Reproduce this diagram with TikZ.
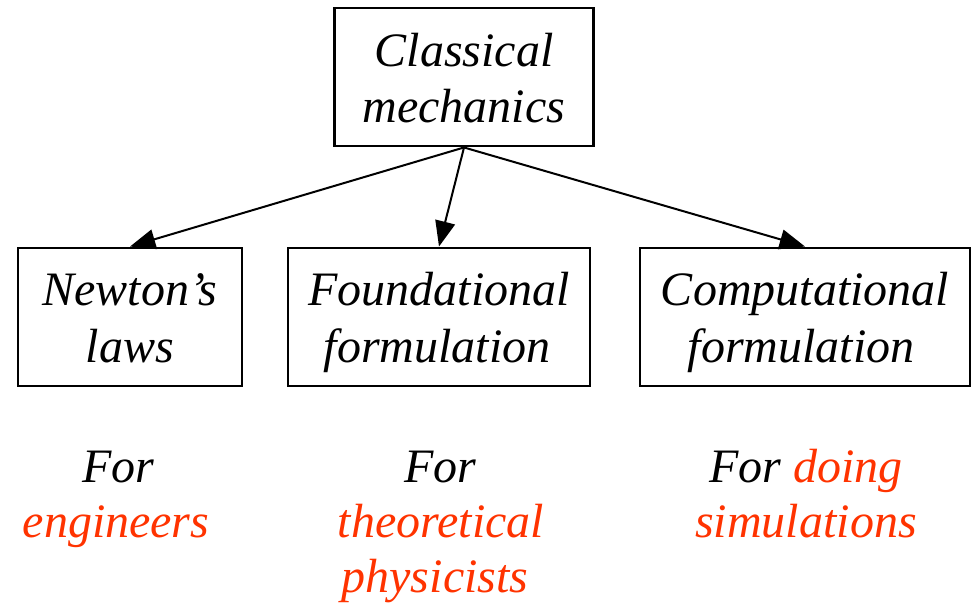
\documentclass[tikz,border=0pt]{standalone}
\usepackage{fontspec}
\setmainfont{Liberation Serif}
\usetikzlibrary{arrows.meta}
\definecolor{accent}{HTML}{FF3300}
\begin{document}
\begin{tikzpicture}[x=0.75pt,y=-0.75pt,
  box/.style={draw=black,line width=2.2pt,inner sep=0pt},
  txt/.style={anchor=base,inner sep=0pt,font=\fontsize{36}{43}\selectfont\itshape},
  conn/.style={line width=1.5pt,-{Triangle[length=19pt,width=15pt]}}]
\useasboundingbox (0,0) rectangle (972,604);
\node[box,minimum width=194pt,minimum height=103.5pt] (top) at (464,77) {};
\node[box,minimum width=168pt,minimum height=103.5pt] (n1) at (130,317) {};
\node[box,minimum width=226.5pt,minimum height=103.5pt] (n2) at (439,317) {};
\node[box,minimum width=247.5pt,minimum height=103.5pt] (n3) at (805,317) {};
\node[txt] (t1) at (464,66) {Classical};
\node[txt] (t2) at (464,122) {mechanics};
\node[txt] (a1) at (130,305) {Newton’s};
\node[txt] (a2) at (130,362) {laws};
\node[txt] (b1) at (439,305) {Foundational};
\node[txt] (b2) at (437,362) {formulation};
\node[txt] (c1) at (805,305) {Computational};
\node[txt] (c2) at (801,362) {formulation};
\node[txt] (d1) at (118,482) {For};
\node[txt,text=accent] (d2) at (116,537) {engineers};
\node[txt] (e1) at (440,482) {For};
\node[txt,text=accent] (e2) at (441,537) {theoretical};
\node[txt,text=accent] (e3) at (435,592) {physicists};
\node[txt] (f1) at (806,482) {For \textcolor{accent}{doing}};
\node[txt,text=accent] (f2) at (806,537) {simulations};
\draw[conn] (top.south) -- (n1.north);
\draw[conn] (top.south) -- (n2.north);
\draw[conn] (top.south) -- (n3.north);
\end{tikzpicture}
\end{document}
